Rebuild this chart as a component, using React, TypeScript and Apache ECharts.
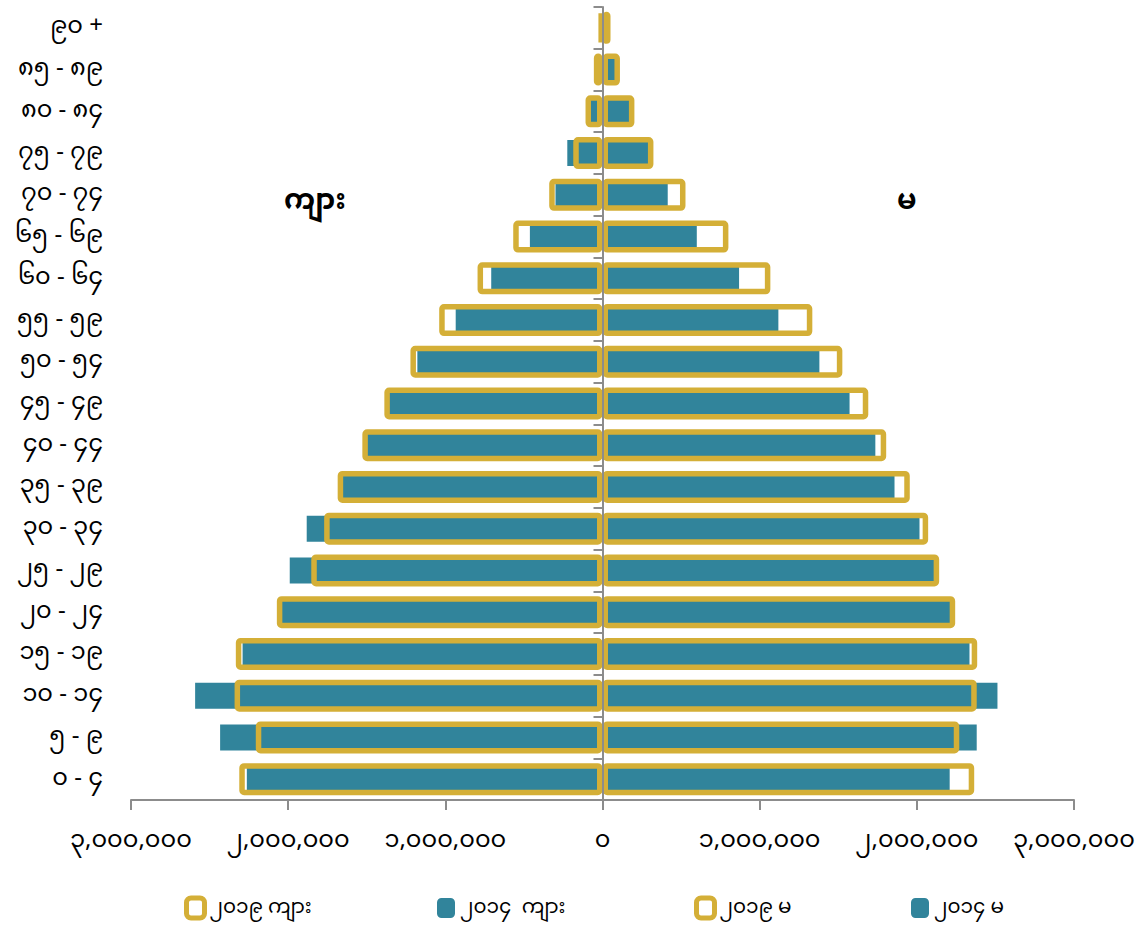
import React, { useEffect, useRef } from "react";
import * as echarts from "echarts";

const categories = [
  "၀ - ၄", "၅ - ၉", "၁၀ - ၁၄", "၁၅ - ၁၉", "၂၀ - ၂၄", "၂၅ - ၂၉", "၃၀ - ၃၄",
  "၃၅ - ၃၉", "၄၀ - ၄၄", "၄၅ - ၄၉", "၅၀ - ၅၄", "၅၅ - ၅၉", "၆၀ - ၆၄",
  "၆၅ - ၆၉", "၇၀ - ၇၄", "၇၅ - ၇၉", "၈၀ - ၈၄", "၈၅ - ၈၉", "၉၀ +",
];

const male2019 = [
  2311000, 2206000, 2341000, 2333000, 2072000, 1853000, 1771000, 1685000,
  1528000, 1388000, 1222000, 1039000, 795000, 568000, 339000, 186000,
  108000, 55000, 17000,
];
const male2014 = [
  2263000, 2433000, 2592000, 2290000, 2060000, 1990000, 1882000, 1670000,
  1510000, 1370000, 1178000, 934000, 708000, 462000, 299000, 224000,
  90000, 40000, 12000,
];
const female2019 = [
  2365000, 2270000, 2381000, 2384000, 2244000, 2142000, 2072000, 1955000,
  1805000, 1691000, 1526000, 1335000, 1068000, 801000, 528000, 324000,
  203000, 111000, 51000,
];
const female2014 = [
  2209000, 2381000, 2513000, 2335000, 2220000, 2120000, 2017000, 1858000,
  1736000, 1572000, 1380000, 1119000, 869000, 600000, 415000, 301000,
  182000, 89000, 30000,
];

const seriesNames = ["၂၀၁၉ ကျား", "၂၀၁၄  ကျား", "၂၀၁၉ မ", "၂၀၁၄ မ"];
const sideLabels = ["ကျား", "မ"];

const GOLD = "#D4AF37";
const BLUE = "#31849B";
const AXIS = "#8C8C8C";
const FONT = "'Noto Sans Myanmar', 'Noto Sans', sans-serif";

const toMy = (s: string) => s.replace(/[0-9]/g, (d) => String.fromCharCode(0x1040 + Number(d)));

export default function App() {
  const ref = useRef<HTMLDivElement>(null);
  useEffect(() => {
    document.body.style.margin = "0";
    const chart = echarts.init(ref.current!, null, { renderer: "svg" });
    const goldStyle = { color: "rgba(0,0,0,0)", borderColor: GOLD, borderWidth: 5.5, borderRadius: 2 };
    const legendBase = {
      top: 892,
      padding: 0,
      itemWidth: 18,
      itemHeight: 20,
      itemGap: 6,
      textStyle: { fontFamily: FONT, fontSize: 20, color: "#000", lineHeight: 32 },
      selectedMode: false,
    };
    chart.setOption({
      animation: false,
      grid: { left: 131, right: 69, top: 7, bottom: 125 },
      xAxis: {
        type: "value",
        min: -3000000,
        max: 3000000,
        interval: 1000000,
        axisLine: { show: true, lineStyle: { color: AXIS, width: 2 } },
        axisTick: { show: true, length: 10, lineStyle: { color: AXIS, width: 2 } },
        splitLine: { show: false },
        axisLabel: {
          margin: 28,
          fontFamily: FONT,
          fontSize: 24,
          lineHeight: 26,
          color: "#000",
          formatter: (v: number) => toMy(Math.abs(v).toLocaleString("en-US")),
        },
      },
      yAxis: [
        {
          type: "category",
          data: categories,
          axisLine: { show: false, onZero: false },
          axisTick: { show: false },
          axisLabel: { margin: 28, fontFamily: FONT, fontSize: 24, lineHeight: 24, color: "#000" },
        },
        {
          type: "category",
          data: categories,
          position: "left",
          z: 10,
          axisLine: { show: true, onZero: true, lineStyle: { color: AXIS, width: 2 } },
          axisTick: { show: true, length: 9, lineStyle: { color: AXIS, width: 2 } },
          axisLabel: { show: false },
        },
      ],
      legend: [
        { ...legendBase, left: 184, data: [{ name: seriesNames[0], itemStyle: { color: "#fff", borderColor: GOLD, borderWidth: 5 } }] },
        { ...legendBase, left: 437, data: [seriesNames[1]] },
        { ...legendBase, left: 694, data: [{ name: seriesNames[2], itemStyle: { color: "#fff", borderColor: GOLD, borderWidth: 5 } }] },
        { ...legendBase, left: 911, data: [seriesNames[3]] },
      ],
      graphic: [
        { type: "text", left: 284, top: 188, style: { text: sideLabels[0], font: `bold 28px ${FONT}`, fill: "#000" } },
        { type: "text", left: 897, top: 188, style: { text: sideLabels[1], font: `bold 28px ${FONT}`, fill: "#000" } },
      ],
      series: [
        {
          name: seriesNames[1],
          type: "bar",
          yAxisIndex: 0,
          barWidth: 26,
          barGap: "-100%",
          itemStyle: { color: BLUE },
          data: male2014.map((v) => -v),
          z: 2,
        },
        {
          name: seriesNames[3],
          type: "bar",
          yAxisIndex: 0,
          barWidth: 26,
          barGap: "-100%",
          itemStyle: { color: BLUE },
          data: female2014,
          z: 2,
        },
        {
          name: seriesNames[0],
          type: "bar",
          yAxisIndex: 1,
          barWidth: 32,
          barGap: "-100%",
          itemStyle: goldStyle,
          data: male2019.map((v) => -v),
          z: 3,
        },
        {
          name: seriesNames[2],
          type: "bar",
          yAxisIndex: 1,
          barWidth: 32,
          barGap: "-100%",
          itemStyle: goldStyle,
          data: female2019,
          z: 3,
        },
      ],
    });
    return () => chart.dispose();
  }, []);
  return <div ref={ref} style={{ width: 1143, height: 925 }} />;
}
